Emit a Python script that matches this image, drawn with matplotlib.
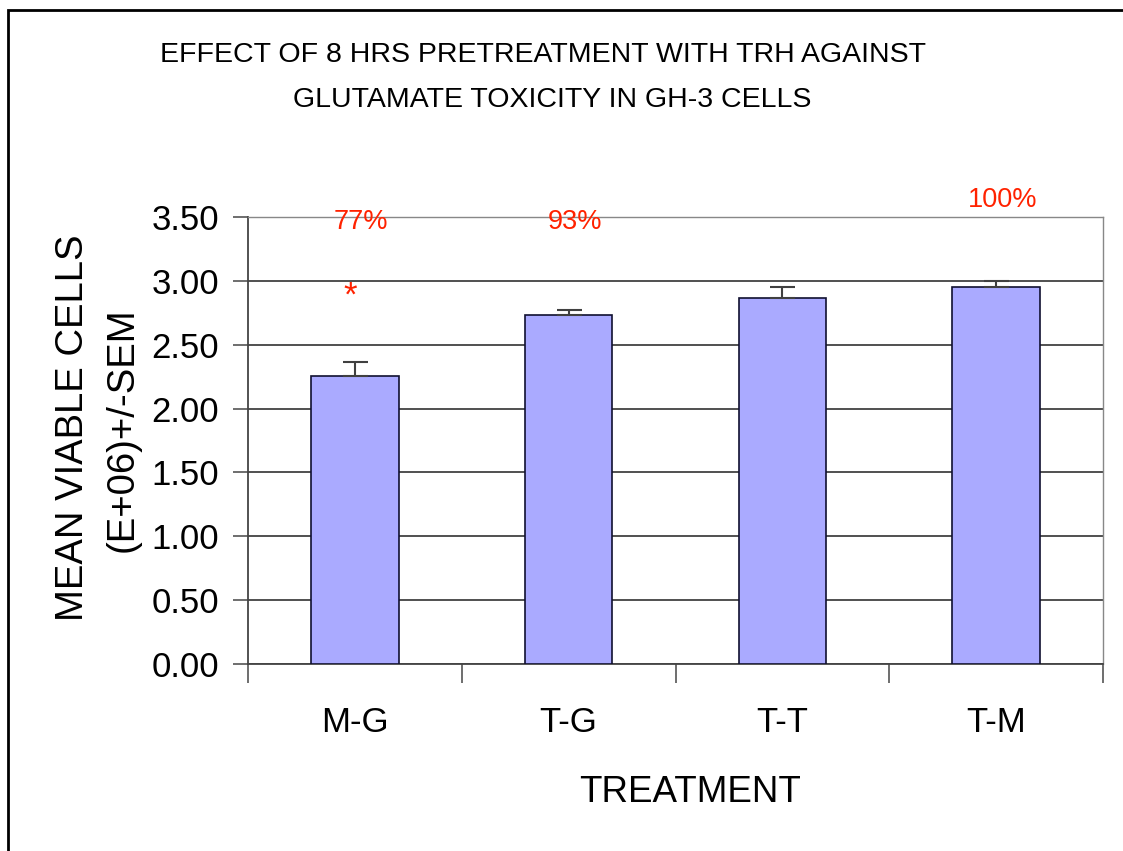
import matplotlib
matplotlib.use("Agg")
import matplotlib.pyplot as plt
from matplotlib.patches import Rectangle

categories = ["M-G", "T-G", "T-T", "T-M"]
means = [2.257, 2.730, 2.864, 2.950]
sems = [0.11, 0.04, 0.086, 0.05]
pct_labels = ["77%", "93%", "", "100%"]
pct_y = [3.46, 3.46, None, 3.63]
star_y = 2.88

plt.rcParams['font.family'] = ['Liberation Sans', 'DejaVu Sans']

fig = plt.figure(figsize=(11.23, 8.51), dpi=100)
W, H = 1123, 851
# outer frame
fig.patches.append(Rectangle((8 / W, -0.01), 1.2, (H - 10) / H + 0.01, transform=fig.transFigure,
                             fill=False, edgecolor='black', linewidth=2))

ax = fig.add_axes([248 / W, 1 - 664 / H, (1103 - 248) / W, (664 - 217) / H])
x = list(range(len(categories)))
ax.bar(x, means, width=0.41, color='#AAAAFF', edgecolor='#101030', linewidth=1.2, zorder=3)
ax.errorbar(x, means, yerr=[[0] * len(sems), sems], fmt='none', ecolor='#404040',
            elinewidth=1.5, capsize=9, capthick=1.5, zorder=4)

ax.set_xlim(-0.5, len(categories) - 0.5)
ax.set_ylim(0, 3.5)
ax.set_yticks([i * 0.5 for i in range(8)])
ax.set_yticklabels([f"{i * 0.5:.2f}" for i in range(8)], fontsize=25)
ax.yaxis.grid(True, color='#202020', linewidth=1.1, zorder=0)
ax.set_axisbelow(True)
ax.set_xticks([i - 0.5 for i in range(len(categories) + 1)])
ax.set_xticklabels([])
ax.tick_params(axis='x', length=14, width=1.2, color='#555555', direction='out')
ax.tick_params(axis='y', length=11, width=1.2, color='#555555', direction='out', pad=10)
for i, c in enumerate(categories):
    ax.text(i, -0.46, c, ha='center', va='center', fontsize=25)

for s in ['left', 'bottom']:
    ax.spines[s].set_color('#444444')
    ax.spines[s].set_linewidth(1.3)
for s in ['top', 'right']:
    ax.spines[s].set_color('#888888')
    ax.spines[s].set_linewidth(1.0)

for i, (lab, yy) in enumerate(zip(pct_labels, pct_y)):
    if lab:
        ax.text(i + 0.03, yy, lab, ha='center', va='center', fontsize=19.5,
                color='#FF2200', clip_on=False)
ax.text(-0.02, star_y, "*", ha='center', va='center', fontsize=25, color='#FF2200')

fig.text(543 / W, 1 - 55 / H, "EFFECT OF 8 HRS PRETREATMENT WITH TRH AGAINST",
         ha='center', va='center', fontsize=20.5)
fig.text(552 / W, 1 - 100 / H, "GLUTAMATE TOXICITY IN GH-3 CELLS",
         ha='center', va='center', fontsize=20.5)

fig.text(73 / W, 1 - 428 / H, "MEAN VIABLE CELLS", rotation=90, ha='center', va='center', fontsize=27.5)
fig.text(123 / W, 1 - 430 / H, "(E+06)+/-SEM", rotation=90, ha='center', va='center', fontsize=27.5)
fig.text(690 / W, 1 - 793 / H, "TREATMENT", ha='center', va='center', fontsize=26.5)

fig.savefig("out.png", dpi=100)
